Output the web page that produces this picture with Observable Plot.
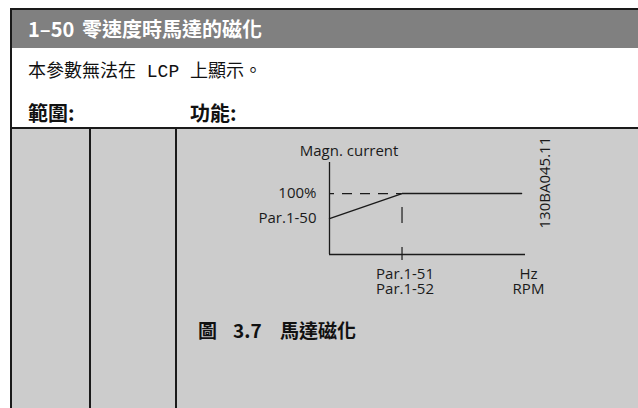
<!DOCTYPE html>
<html>
<head>
<meta charset="utf-8">
<script src="https://cdn.jsdelivr.net/npm/d3@7"></script>
<script src="https://cdn.jsdelivr.net/npm/@observablehq/plot@0.6"></script>
<style>
  html, body { margin: 0; padding: 0; width: 638px; height: 408px; overflow: hidden; background: #fff; }
  .abs { position: absolute; white-space: pre; }
  .cjk { font-family: "Liberation Sans Narrow", "Noto Sans CJK TC", sans-serif; }
  .mono { font-family: "Liberation Mono", "Noto Sans CJK TC", monospace; }
  #header { left: 11px; top: 8px; width: 627px; height: 40px; background: #808080; border-top: 2px solid #1a1a1a; box-sizing: border-box; }
  #h1 { left: 17px; top: 4px; color: #fff; font-weight: bold; font-size: 20px; line-height: 30px; }
  #h2 { left: 71px; top: 4px; color: #fff; font-weight: bold; font-size: 20px; line-height: 30px; }
  #leftborder { left: 10px; top: 8px; width: 1.5px; height: 400px; background: #1a1a1a; }
  #row1 { left: 28px; top: 60px; font-size: 18px; line-height: 24px; color: #111; }
  #row2a { left: 28px; top: 99px; font-size: 20px; font-weight: bold; line-height: 28px; color: #111; }
  #row2b { left: 190px; top: 99px; font-size: 20px; font-weight: bold; line-height: 28px; color: #111; }
  #grey { left: 11px; top: 127px; width: 627px; height: 281px; background: #cccccc; border-top: 2px solid #1a1a1a; box-sizing: border-box; }
  .vline { top: 127px; width: 1.5px; height: 281px; background: #1a1a1a; }
  .cap { top: 316px; font-size: 19px; font-weight: bold; line-height: 28px; color: #111; }
  #chart { left: 0; top: 0; }
</style>
</head>
<body>
<div id="header" class="abs"><div id="h1" class="abs cjk">1–50</div><div id="h2" class="abs cjk">零速度時馬達的磁化</div></div>
<div id="row1" class="abs mono">本參數無法在 LCP 上顯示。</div>
<div id="row2a" class="abs cjk">範圍:</div>
<div id="row2b" class="abs cjk">功能:</div>
<div id="grey" class="abs"></div>
<div id="leftborder" class="abs"></div>
<div class="abs vline" style="left:89px"></div>
<div class="abs vline" style="left:175px"></div>
<div class="abs cap cjk" style="left:198px">圖</div>
<div class="abs cap cjk" style="left:233px">3.7</div>
<div class="abs cap cjk" style="left:280px">馬達磁化</div>
<div id="chart" class="abs"></div>
<script>
// Magnetisation curve (x in % of axis span, y in % magnetisation current)
const curveX = [0, 37, 98];
const curveY = [59, 100, 100];
const breakX = 37;          // Par.1-51 / Par.1-52
const par150 = 59;          // Par.1-50 level
const fullLevel = 100;      // 100 %
const xMax = 100;
const yMax = 151;

const yTickLabels = ["100%", "Par.1-50"];
const yTickValues = [fullLevel, par150];
const xTickLabels = ["Par.1-51\nPar.1-52", "Hz\nRPM"];
const xTickValues = [breakX, xMax];
const yTitle = "Magn. current";
const drawingId = "130BA045.11";

const curve = curveX.map((x, i) => ({x, y: curveY[i]}));
const yTicks = yTickLabels.map((t, i) => ({label: t, y: yTickValues[i]}));
const xTicks = xTickLabels.map((t, i) => ({label: t, x: xTickValues[i]}));

const ink = "#1a1a1a";
const font = "Open Sans, Noto Sans, sans-serif";

const chart = Plot.plot({
  width: 638,
  height: 408,
  marginLeft: 329,
  marginRight: 113,
  marginTop: 162,
  marginBottom: 154,
  x: {domain: [0, xMax], axis: null},
  y: {domain: [0, yMax], axis: null},
  style: {background: "transparent", fontFamily: font, overflow: "visible"},
  marks: [
    Plot.ruleX([0], {y1: 0, y2: yMax, stroke: ink, strokeWidth: 1.3}),
    Plot.ruleY([0], {x1: 0, x2: xMax, stroke: ink, strokeWidth: 1.3}),
    Plot.ruleY([fullLevel], {x1: 0, x2: breakX, stroke: ink, strokeWidth: 1.2, strokeDasharray: "10,8", strokeDashoffset: 5}),
    Plot.ruleX([breakX], {y1: fullLevel, y2: -10, stroke: ink, strokeWidth: 1.2, strokeDasharray: "0,14,16,24,14,100"}),
    Plot.line(curve, {x: "x", y: "y", stroke: ink, strokeWidth: 1.4}),
    Plot.text(yTicks, {x: 0, y: "y", text: "label", textAnchor: "end", dx: -13, fontSize: 15, fill: ink}),
    Plot.text([yTitle], {x: 10, y: 170, text: d => d, fontSize: 15, fill: ink}),
    Plot.text(xTicks, {x: "x", y: 0, text: "label", lineAnchor: "top", dy: 14, dx: 3, lineHeight: 1.0, fontSize: 15, fill: ink}),
    Plot.text([drawingId], {x: 110, y: 118, text: d => d, rotate: -90, fontSize: 15, fill: ink})
  ]
});
document.getElementById("chart").appendChild(chart);
</script>
</body>
</html>
